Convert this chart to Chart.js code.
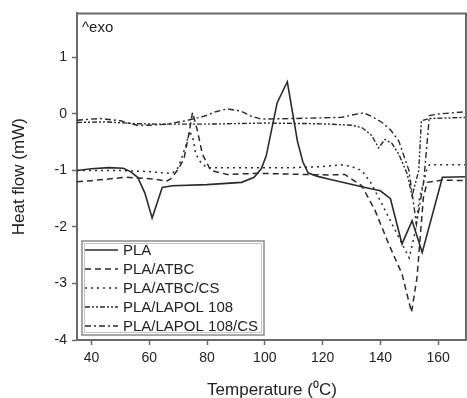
<!DOCTYPE html>
<html>
<head>
<meta charset="utf-8">
<script src="https://cdn.jsdelivr.net/npm/chart.js@4.4.1/dist/chart.umd.min.js"></script>
<style>
html,body{margin:0;padding:0;background:#fff;}
#c{display:block;}
</style>
</head>
<body>
<canvas id="c" width="467" height="398"></canvas>
<script>
// ---- data ----
const seriesNames = ["PLA", "PLA/ATBC", "PLA/ATBC/CS", "PLA/LAPOL 108", "PLA/LAPOL 108/CS"];

const plaT = [35, 40, 46, 51, 53.5, 56, 58.5, 61, 64.5, 68, 80, 92, 96.3, 98.8, 100.5, 104.3, 107.8, 111.3, 113.2, 115, 118, 122, 128, 134.7, 140, 143.5, 147.5, 151, 154.5, 161.5, 170];
const plaV = [-1.0, -0.97, -0.95, -0.96, -1.02, -1.12, -1.4, -1.84, -1.3, -1.27, -1.25, -1.21, -1.12, -0.97, -0.74, 0.2, 0.57, -0.48, -0.85, -1.04, -1.1, -1.15, -1.22, -1.3, -1.36, -1.5, -2.3, -1.89, -2.45, -1.12, -1.11];

const atbcT = [35, 40, 52, 61.5, 66, 67.4, 69.7, 72, 73.8, 75, 76.7, 78.4, 81.3, 87, 97.6, 122, 127.7, 133.6, 138.2, 142.9, 147.5, 150.8, 152.7, 154.9, 156.2, 161.5, 170];
const atbcV = [-1.2, -1.18, -1.12, -1.15, -1.19, -1.15, -1.0, -0.8, -0.33, 0.03, -0.3, -0.71, -1.0, -1.07, -1.05, -1.08, -1.07, -1.27, -1.71, -2.3, -2.83, -3.51, -2.89, -1.48, -1.21, -1.17, -1.18];

const atbcCsT = [35, 50, 60, 64, 68, 70, 71.5, 72.6, 74, 75.2, 76.1, 77.9, 80, 90, 110, 120, 126.6, 130, 133.6, 137, 142.9, 150, 152, 153.5, 156, 157, 170];
const atbcCsV = [-1.0, -1.0, -1.02, -1.04, -1.05, -0.95, -0.74, -0.57, -0.3, -0.45, -0.71, -0.86, -0.95, -0.95, -0.95, -0.93, -0.9, -0.93, -1.0, -1.24, -1.83, -2.55, -2.1, -1.5, -1.0, -0.9, -0.9];

const lapolT = [35, 45, 55, 62, 70, 80, 100, 115, 123, 130, 133.6, 137, 139.4, 141.6, 144, 146.4, 149.3, 151, 153.3, 154.2, 157, 170];
const lapolV = [-0.15, -0.14, -0.17, -0.18, -0.18, -0.18, -0.16, -0.17, -0.18, -0.2, -0.24, -0.38, -0.6, -0.45, -0.52, -0.71, -1.06, -1.45, -1.0, -0.12, -0.08, -0.06];

const lapolCsT = [35, 43, 50, 55.8, 60, 66.2, 72.6, 79, 83, 87, 91.8, 95.3, 98.8, 110, 126.6, 130, 134.2, 137, 140.6, 143.5, 146.4, 149.9, 152.5, 155, 157, 160, 170];
const lapolCsV = [-0.11, -0.08, -0.12, -0.2, -0.2, -0.18, -0.12, -0.04, 0.04, 0.09, 0.05, -0.04, -0.09, -0.08, -0.06, -0.02, 0.02, -0.04, -0.15, -0.28, -0.48, -1.0, -1.95, -1.2, -0.03, 0.0, 0.04];

const xTicks = [40, 60, 80, 100, 120, 140, 160];
const yTicks = [-4, -3, -2, -1, 0, 1];

// ---- styles ----
const lineColor = '#2a2a2a';
const dashes = [[], [6, 4], [2, 4], [5, 2, 2, 2, 2, 2], [6, 3, 2, 3]];
const widths = [1.6, 1.5, 1.5, 1.4, 1.4];

function pts(T, V) { return T.map((t, i) => ({x: t, y: V[i]})); }
const allT = [plaT, atbcT, atbcCsT, lapolT, lapolCsT];
const allV = [plaV, atbcV, atbcCsV, lapolV, lapolCsV];

const datasets = seriesNames.map((n, i) => ({
  label: n,
  data: pts(allT[i], allV[i]),
  borderColor: lineColor,
  borderWidth: widths[i],
  borderDash: dashes[i],
  pointRadius: 0,
  fill: false,
  tension: 0
}));

const FONT = "'Liberation Sans', Arial, Helvetica, sans-serif";
const AXIS = '#6a6a6a';

const framePlugin = {
  id: 'frame',
  afterDraw(chart) {
    const {ctx, chartArea: a} = chart;
    ctx.save();
    ctx.strokeStyle = AXIS;
    ctx.lineWidth = 2;
    ctx.beginPath();
    ctx.moveTo(a.left, a.top);
    ctx.lineTo(a.right - 1, a.top);
    ctx.lineTo(a.right - 1, a.bottom);
    ctx.stroke();
    // ^exo label
    ctx.fillStyle = '#222';
    ctx.font = '15px ' + FONT;
    ctx.textBaseline = 'middle';
    ctx.textAlign = 'left';
    ctx.fillText('^exo', a.left + 5, a.top + 14);
    // legend
    const bx = 82, by = 241, bw = 182, bh = 94;
    ctx.fillStyle = '#fff';
    ctx.fillRect(bx, by, bw, bh);
    ctx.strokeStyle = '#8a8a8a';
    ctx.lineWidth = 1.5;
    ctx.strokeRect(bx, by, bw, bh);
    ctx.strokeStyle = '#c4c4c4';
    ctx.lineWidth = 1;
    ctx.strokeRect(bx + 2.5, by + 2.5, bw - 5, bh - 5);
    chart.data.datasets.forEach((d, i) => {
      const y = 250 + i * 19;
      ctx.strokeStyle = d.borderColor;
      ctx.lineWidth = d.borderWidth;
      ctx.setLineDash(d.borderDash);
      ctx.beginPath();
      ctx.moveTo(85, y);
      ctx.lineTo(118, y);
      ctx.stroke();
      ctx.setLineDash([]);
      ctx.fillStyle = '#222';
      ctx.font = '15px ' + FONT;
      ctx.textBaseline = 'middle';
      ctx.fillText(d.label, 123, y + 1);
    });
    ctx.restore();
  }
};

new Chart(document.getElementById('c'), {
  type: 'line',
  data: {datasets},
  plugins: [framePlugin],
  options: {
    responsive: false,
    animation: false,
    layout: {padding: {top: 13, right: 0, left: 0, bottom: 0}},
    plugins: {legend: {display: false}, tooltip: {enabled: false}},
    scales: {
      x: {
        type: 'linear',
        min: 35, max: 170,
        afterBuildTicks: s => { s.ticks = xTicks.map(v => ({value: v})); },
        afterFit: s => { s.height = 58; },
        grid: {drawOnChartArea: false, drawTicks: true, tickLength: 5, color: AXIS, tickWidth: 1.5},
        border: {display: true, color: AXIS, width: 2},
        ticks: {color: '#222', font: {family: FONT, size: 14}, padding: 5, maxRotation: 0},
        title: {display: true, text: 'Temperature (\u2070C)', color: '#222', font: {family: FONT, size: 17, lineHeight: 1}, padding: {top: 0, bottom: -1}}
      },
      y: {
        type: 'linear',
        min: -4, max: 1.78,
        afterBuildTicks: s => { s.ticks = yTicks.map(v => ({value: v})); },
        afterFit: s => { s.width = 77; },
        grid: {drawOnChartArea: false, drawTicks: true, tickLength: 5, color: AXIS, tickWidth: 1.5},
        border: {display: true, color: AXIS, width: 2},
        ticks: {color: '#222', font: {family: FONT, size: 14}, padding: 5},
        title: {display: true, text: 'Heat flow (mW)', color: '#222', font: {family: FONT, size: 17, lineHeight: 1}, padding: {top: 11, bottom: 0}}
      }
    }
  }
});
</script>
</body>
</html>
